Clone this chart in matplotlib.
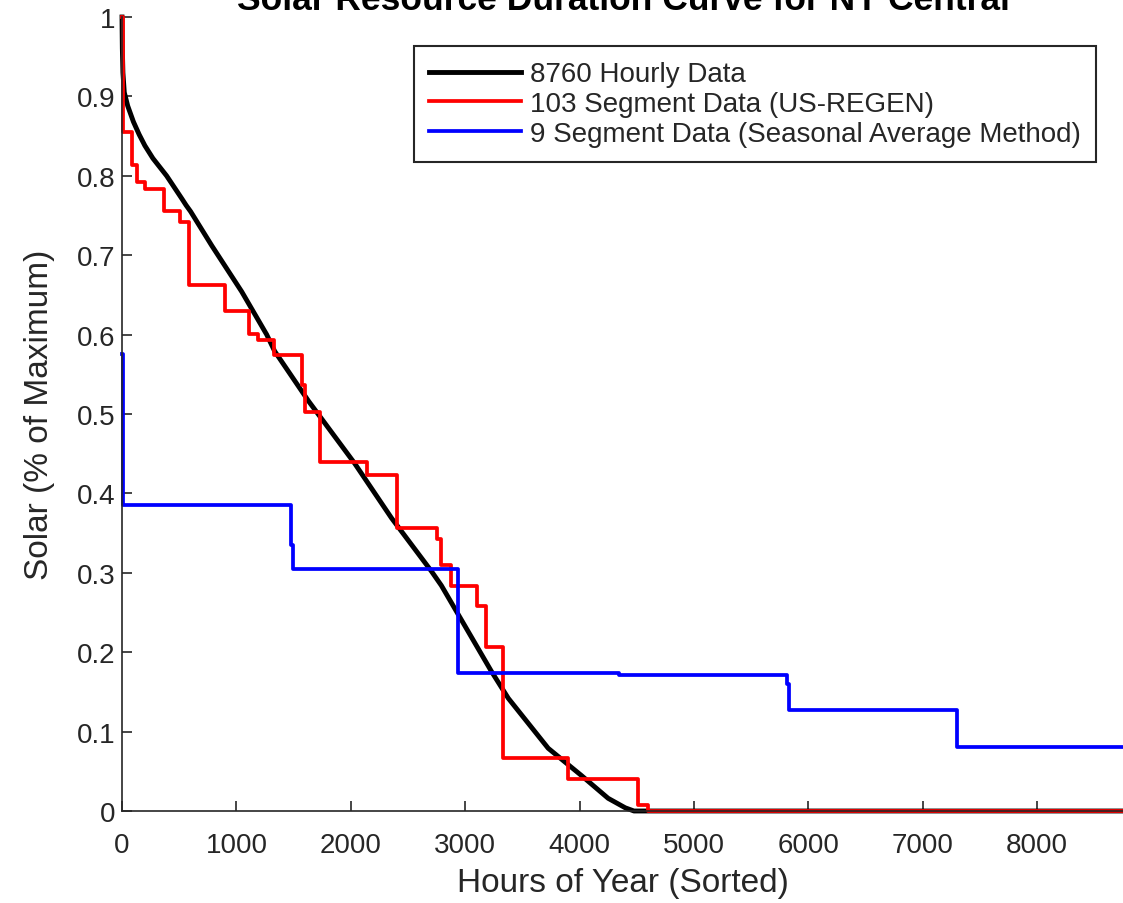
import numpy as np
import matplotlib
matplotlib.use("Agg")
import matplotlib.pyplot as plt

plt.rcParams['font.family'] = ['Liberation Sans', 'DejaVu Sans']

# -- Data --
# 8760 hourly duration curve (sorted)
hourly_h = [0, 1, 3, 8, 20, 50, 100, 150, 200, 270, 390, 524, 560, 600, 785, 1047,
            1265, 1335, 1632, 2033, 2356, 2705, 2792, 3229, 3377, 3726, 4014,
            4250, 4400, 4476, 8760]
hourly_v = [1.0, 0.985, 0.96, 0.93, 0.905, 0.888, 0.868, 0.852, 0.838, 0.822,
            0.80, 0.771, 0.763, 0.755, 0.712, 0.654, 0.60, 0.579, 0.516, 0.438,
            0.369, 0.302, 0.284, 0.176, 0.142, 0.079, 0.045, 0.016, 0.004, 0.0, 0.0]

# 103 segment data (US-REGEN) - segment start hours and levels
regen_edges = [0, 10, 87, 131, 200, 366, 508, 583, 900, 1106, 1190, 1326, 1570,
               1600, 1730, 2140, 2400, 2750, 2790, 2880, 3100, 3185, 3333, 3900,
               4510, 4600, 8760]
regen_vals = [1.0, 0.855, 0.813, 0.792, 0.784, 0.756, 0.742, 0.662, 0.630, 0.601,
              0.593, 0.574, 0.536, 0.503, 0.440, 0.423, 0.356, 0.342, 0.310, 0.283,
              0.258, 0.207, 0.067, 0.040, 0.007, 0.0]

# 9 segment data (seasonal average method)
season_edges = [0, 10, 1475, 1495, 2935, 4345, 5815, 5835, 7300, 8760]
season_vals = [0.576, 0.385, 0.335, 0.305, 0.174, 0.171, 0.160, 0.127, 0.080]

labels = ['8760 Hourly Data', '103 Segment Data (US-REGEN)',
          '9 Segment Data (Seasonal Average Method)']

fig = plt.figure(figsize=(11.23, 9.04), dpi=100)
ax = fig.add_axes([122/1123, 92/904, 1002/1123, 794/904])

ax.plot(hourly_h, hourly_v, color='black', lw=3.5, label=labels[0], clip_on=False)
ax.step(regen_edges, regen_vals + [regen_vals[-1]], where='post', color='#ff0000',
        lw=2.7, label=labels[1], clip_on=False)
ax.step(season_edges, season_vals + [season_vals[-1]], where='post', color='#0000ff',
        lw=2.7, label=labels[2], clip_on=False)

ax.set_xlim(0, 8760)
ax.set_ylim(0, 1)
ax.set_xticks(np.arange(0, 8001, 1000))
ax.set_yticks(np.arange(0, 1.01, 0.1))
ax.set_yticklabels(['0', '0.1', '0.2', '0.3', '0.4', '0.5', '0.6', '0.7', '0.8', '0.9', '1'])

for s in ['top', 'right']:
    ax.spines[s].set_visible(False)
for s in ['left', 'bottom']:
    ax.spines[s].set_color('#262626')
    ax.spines[s].set_linewidth(1.2)
ax.tick_params(direction='in', length=7, width=1.2, colors='#262626', labelsize=20)
ax.tick_params(axis='x', pad=15)
ax.tick_params(axis='y', pad=5)

ax.set_xlabel('Hours of Year (Sorted)', fontsize=24, color='#262626')
ax.set_ylabel('Solar (% of Maximum)', fontsize=24, color='#262626')
ax.xaxis.set_label_coords(0.5, -0.071)
ax.yaxis.set_label_coords(-0.067, 0.5)

fig.text(623/1123, 1 - 10/904, 'Solar Resource Duration Curve for NY Central',
         ha='center', va='baseline', fontsize=25.5, fontweight='bold')

leg = ax.legend(loc='upper right', bbox_to_anchor=(1096/1123, 1 - 47/904),
                bbox_transform=fig.transFigure, borderaxespad=0, fontsize=20,
                handlelength=3.3, handletextpad=0.32, labelspacing=0.14,
                borderpad=0.55, fancybox=False, framealpha=1)
leg.get_frame().set_edgecolor('#262626')
leg.get_frame().set_linewidth(1.5)
for t in leg.get_texts():
    t.set_color('#262626')

fig.savefig('out.png', dpi=100)
